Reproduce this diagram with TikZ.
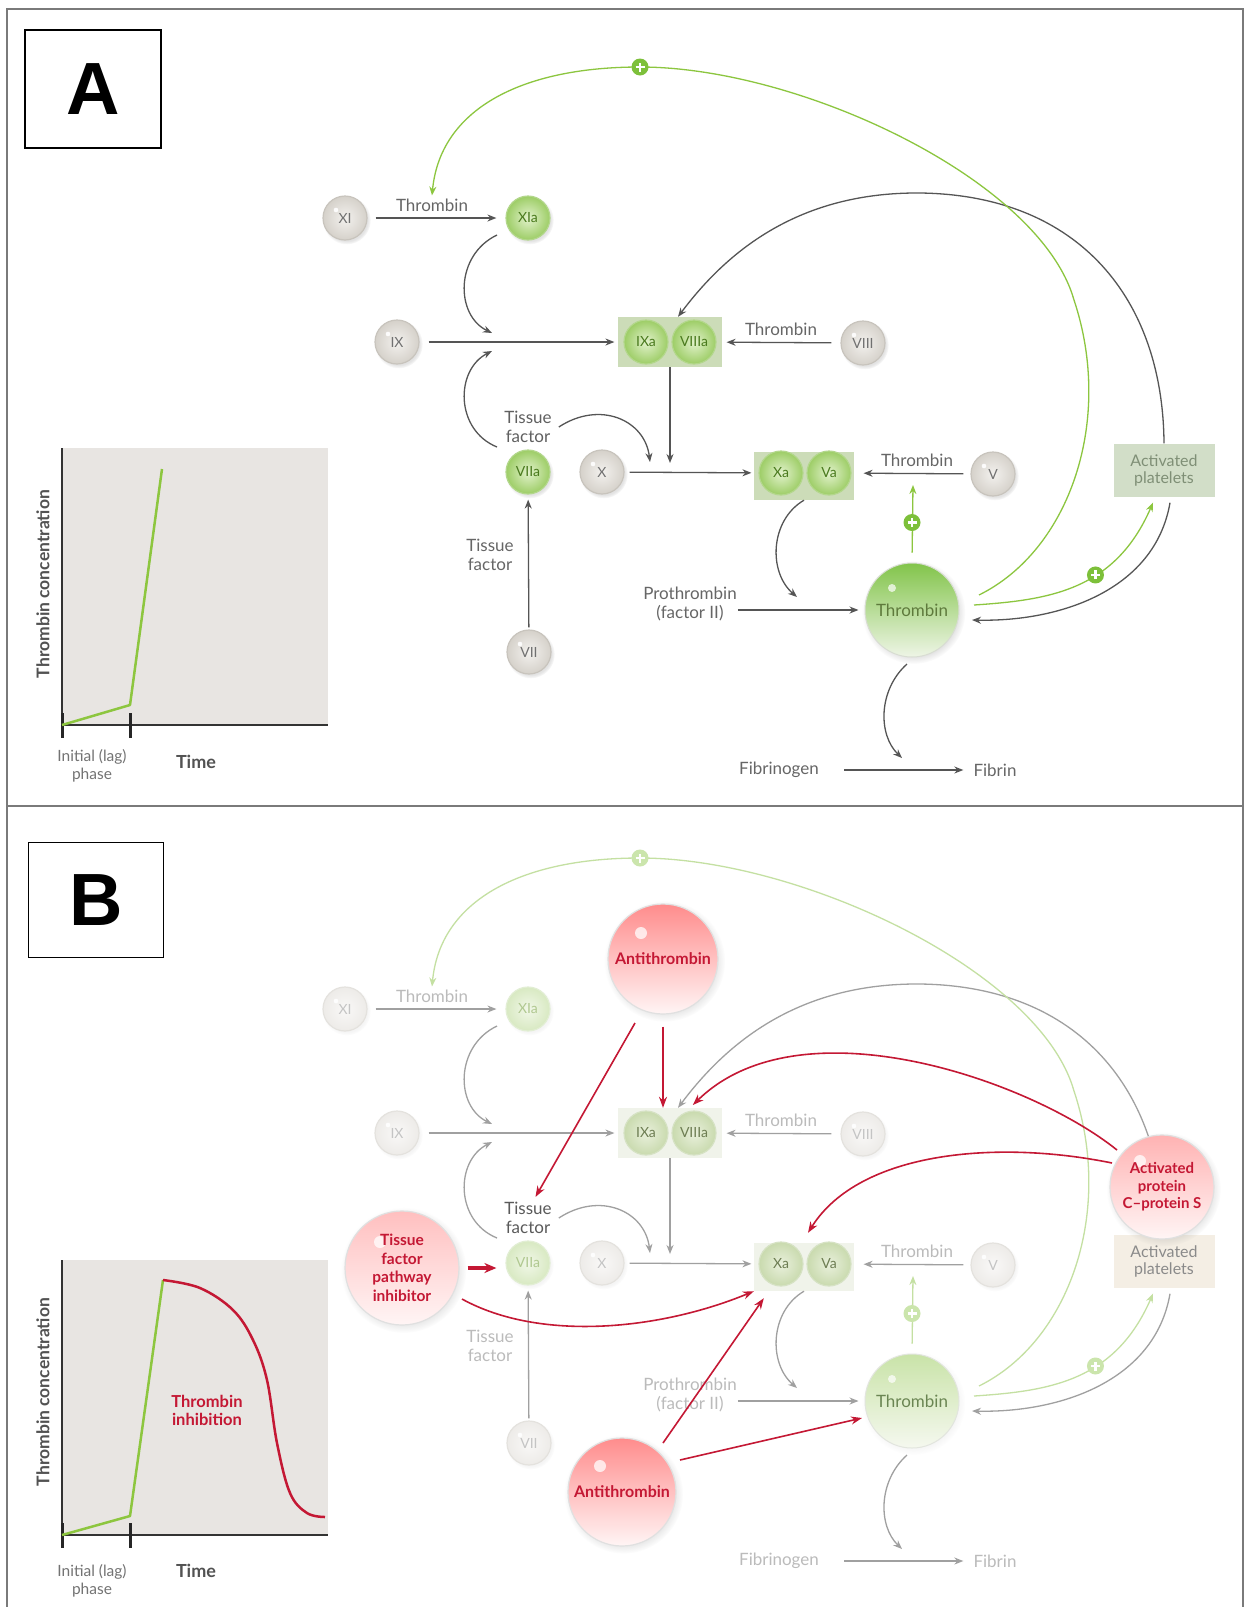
\documentclass[tikz,border=0pt]{standalone}
\usepackage{fontspec}
\setmainfont{Lato}
\newfontfamily\arialfont{Liberation Sans}
\usetikzlibrary{arrows.meta,shadows}

\newcommand\colorsA{%
\definecolor{lc}{HTML}{555555}\definecolor{tc}{HTML}{666666}\definecolor{tfc}{HTML}{606060}%
\definecolor{gc}{HTML}{8CC63F}\definecolor{pc}{HTML}{7DC03A}%
\definecolor{gbi}{HTML}{F3F1EE}\definecolor{gbo}{HTML}{D5D1CA}\definecolor{gbd}{HTML}{C8C4BD}\definecolor{gbt}{HTML}{707070}%
\definecolor{abi}{HTML}{E2F2CC}\definecolor{abo}{HTML}{9DCD66}\definecolor{abd}{HTML}{B3D78C}\definecolor{abt}{HTML}{4A7A1E}%
\definecolor{cbi}{HTML}{E2F2CC}\definecolor{cbo}{HTML}{9DCD66}\definecolor{cbd}{HTML}{B3D78C}\definecolor{cbt}{HTML}{4A7A1E}%
\definecolor{cpx}{HTML}{CCDCB8}%
\definecolor{tht}{HTML}{82C44A}\definecolor{thb}{HTML}{EEF5E6}\definecolor{thd}{HTML}{D8DDD2}\definecolor{thtx}{HTML}{5E7A3C}%
\definecolor{plf}{HTML}{D2DEC8}\definecolor{pltx}{HTML}{7F8F76}}
\newcommand\colorsB{%
\definecolor{lc}{HTML}{A0A0A0}\definecolor{tc}{HTML}{BBBBBB}\definecolor{tfc}{HTML}{5A5A5A}%
\definecolor{gc}{HTML}{C4E0A2}\definecolor{pc}{HTML}{CBE5AC}%
\definecolor{gbi}{HTML}{F9F8F7}\definecolor{gbo}{HTML}{EDEBE8}\definecolor{gbd}{HTML}{E4E2DE}\definecolor{gbt}{HTML}{C4C4C4}%
\definecolor{abi}{HTML}{F1F7E8}\definecolor{abo}{HTML}{D8E9C2}\definecolor{abd}{HTML}{E2EED4}\definecolor{abt}{HTML}{B0C890}%
\definecolor{cbi}{HTML}{E9F0DC}\definecolor{cbo}{HTML}{C9DAAE}\definecolor{cbd}{HTML}{D6E2C4}\definecolor{cbt}{HTML}{6D7D52}%
\definecolor{cpx}{HTML}{F0F3EA}%
\definecolor{tht}{HTML}{C9E3A8}\definecolor{thb}{HTML}{F5F8EF}\definecolor{thd}{HTML}{E2E5DE}\definecolor{thtx}{HTML}{6A8552}%
\definecolor{plf}{HTML}{F4EEE4}\definecolor{pltx}{HTML}{8A8A8A}}
\colorsA
\definecolor{redc}{HTML}{C41834}
\definecolor{bgg}{HTML}{E8E5E2}
\definecolor{grl}{HTML}{8DC63F}
\definecolor{axc}{HTML}{333333}
\definecolor{frm}{HTML}{7A7A7A}

\tikzset{
  shd/.style={},
  lbl/.style={font=\fontsize{17}{18.5}\selectfont, text=tc, inner sep=1pt, align=center},
  fball/.style={circle, minimum size=44pt, inner sep=0pt, font=\fontsize{14}{15}\selectfont, line width=1.2pt},
  hl/.style={path picture={\fill[white,opacity=#1] ([shift={(-9pt,8pt)}]path picture bounding box.center) circle (2.3pt);}},
  gball/.style={fball, shd, inner color=gbi, outer color=gbo, draw=gbd, text=gbt, hl=0.9},
  aball/.style={fball, shd, inner color=abi, outer color=abo, draw=abd, text=abt},
  cball/.style={fball, inner color=cbi, outer color=cbo, draw=cbd, text=cbt},
  cplx/.style={rectangle, minimum width=104pt, minimum height=50pt, fill=cpx, inner sep=0pt},
  thr/.style={circle, minimum size=94pt, inner sep=0pt, top color=tht, bottom color=thb, draw=thd, line width=1pt, text=thtx, font=\fontsize{17}{18}\selectfont, shd,
     path picture={\fill[white,opacity=0.7] ([shift={(-20pt,22pt)}]path picture bounding box.center) circle (4pt);}},
  pltbox/.style={rectangle, minimum width=101pt, minimum height=53pt, fill=plf, text=pltx, align=center, font=\fontsize{16}{17}\selectfont},
  ar/.style={draw=lc, line width=1.3pt, -{Stealth[length=9pt,width=7pt]}},
  garr/.style={draw=gc, line width=1.3pt, -{Stealth[length=9pt,width=7pt]}},
  rar/.style={draw=redc, line width=1.6pt, -{Stealth[length=11pt,width=8pt]}},
  plusn/.style={circle, minimum size=17pt, inner sep=0pt, fill=pc, draw=none,
     path picture={\draw[white, line width=2.2pt, -, shorten <=0pt, shorten >=0pt] ([xshift=-4.5pt]path picture bounding box.center) -- ([xshift=4.5pt]path picture bounding box.center) ([yshift=-4.5pt]path picture bounding box.center) -- ([yshift=4.5pt]path picture bounding box.center);}},
  redball/.style={circle, minimum size=110pt, inner sep=0pt, top color=#1, bottom color=red!4!white, draw=black!12, line width=1.2pt, text=redc,
     font=\bfseries\fontsize{16}{18}\selectfont, align=center, circular drop shadow={shadow xshift=1.5pt,shadow yshift=-2pt,opacity=0.18},
     path picture={\fill[white,opacity=0.75] ([shift={(-22pt,26pt)}]path picture bounding box.center) circle (6pt);}},
  ylab/.style={rotate=90, font=\bfseries\fontsize{17.5}{18}\selectfont, text=black!68},
  laglab/.style={font=\fontsize{15.5}{18}\selectfont, text=black!55, align=center},
  timelab/.style={font=\bfseries\fontsize{18}{18}\selectfont, text=black!68},
  panel/.style={draw=black, line width=1.5pt, minimum width=136pt, minimum height=118pt, font=\arialfont\bfseries\fontsize{74}{74}\selectfont}
}

\newcommand\cascade{%
\node[cplx] (IXc) at (670,342) {};
\node[cplx, minimum width=100pt, minimum height=48pt] (Xc) at (804,476) {};
\node[gball] (XI) at (345,218) {XI};
\node[aball] (XIa) at (528,218) {XIa};
\node[gball] (IX) at (397,342) {IX};
\node[cball] (IXa) at (646,342) {IXa};
\node[cball] (VIIIa) at (694,342) {VIIIa};
\node[gball] (VIII) at (863,343) {VIII};
\node[aball] (VIIa) at (528,472) {VIIa};
\node[gball] (X) at (602,472) {X};
\node[cball] (Xa) at (781,473) {Xa};
\node[cball] (Va) at (829,473) {Va};
\node[gball] (V) at (993,474) {V};
\node[gball] (VII) at (529,652) {VII};
\node[thr] (Thr) at (912,610) {Thrombin};
\node[pltbox] (Plt) at (1164,470) {Activated\\platelets};
\node[lbl] (T1) at (432,205) {Thrombin};
\node[lbl] (T2) at (781,329) {Thrombin};
\node[lbl] (T3) at (917,460) {Thrombin};
\node[lbl,text=tfc] (TF1) at (528,427) {Tissue\\factor};
\node[lbl] (TF2) at (490,555) {Tissue\\factor};
\node[lbl] (Pro) at (690,604) {Prothrombin\\(factor II)};
\node[lbl] (Fgn) at (779,770) {Fibrinogen};
\node[lbl] (Fbn) at (995,770) {Fibrin};
\coordinate (J1) at (492,333);
\coordinate (J2) at (492,351);
\coordinate (J3) at (670,463);
\coordinate (J4) at (650,462);
\coordinate (J5) at (797,597);
\coordinate (J6) at (902,758);
\coordinate (J7) at (913,485);
\coordinate (P1c) at (640,67);
\draw[ar, shorten <=8pt, shorten >=9pt] (XI) -- (XIa);
\draw[ar, shorten <=9pt, shorten >=9pt] (IX) -- (IXa);
\draw[ar, shorten <=9pt, shorten >=10pt] (VIII) -- (VIIIa);
\draw[ar, shorten <=5pt, shorten >=7pt] (X) -- (Xa);
\draw[ar, shorten <=7pt, shorten >=12pt] (V) -- (Va);
\draw[ar, shorten <=2pt, shorten >=5pt] (VII) -- (VIIa);
\draw[ar] ([xshift=-31pt,yshift=-17pt]XIa.center) .. controls (455,255) and (455,315) .. (J1);
\draw[ar] ([xshift=-31pt,yshift=25pt]VIIa.center) .. controls (455,430) and (455,370) .. (J2);
\draw[ar] ([xshift=6pt]TF1.east) .. controls (600,400) and (645,420) .. (J4);
\draw[ar] (IXc.south) -- (J3);
\draw[ar] (Xc.south) .. controls (770,520) and (768,572) .. (J5);
\draw[ar, shorten >=6pt] (Pro.east |- Thr.west) -- (Thr.west);
\draw[ar] ([xshift=-5pt,yshift=-54pt]Thr.center) .. controls (878,690) and (878,735) .. (J6);
\draw[ar, shorten <=24pt, shorten >=9pt] (Fgn) -- (Fbn);
\draw[garr, shorten <=10pt] (Thr.north) -- (J7);
\node[plusn] (P2) at ([yshift=40pt]Thr.north) {};
\draw[garr] ([xshift=62pt,yshift=5pt]Thr.center) .. controls (1050,600) and (1115,590) .. ([xshift=-11pt,yshift=-6pt]Plt.south) coordinate[pos=0.6] (P3c);
\node[plusn] (P3) at (P3c) {};
\draw[ar] ([xshift=6pt,yshift=-6pt]Plt.south) .. controls (1155,590) and (1060,622) .. ([xshift=60pt,yshift=-10pt]Thr.center);
\draw[ar] (Plt.north) .. controls (1163,300) and (1080,195) .. (920,193) .. controls (800,192) and (728,250) .. ([xshift=8pt]IXc.north);
\draw[garr] ([xshift=67pt,yshift=15pt]Thr.center) .. controls (1070,550) and (1114,420) .. (1074,300) .. controls (1040,180) and (800,67) .. (P1c) .. controls (520,67) and (440,110) .. ([yshift=2pt]T1.north);
\node[plusn] (P1) at (P1c) {};
}

\begin{document}
\begin{tikzpicture}[x=1pt,y=-1pt]
\useasboundingbox (0,0) rectangle (1245,1607);
\fill[white] (0,0) rectangle (1245,1607);
% frame
\draw[frm, line width=2pt] (7,1607) -- (7,9) -- (1243,9) -- (1243,1607);
\draw[frm, line width=2pt] (7,806) -- (1243,806);
\node[panel] (boxA) at (93,89) {A};
\node[panel, minimum width=135pt, minimum height=115pt] (boxB) at (96,900) {B};

% graph A
\fill[bgg] (62,448) rectangle (328,725);
\draw[axc, line width=2pt] (62,448) -- (62,725);
\draw[axc, line width=2.5pt] (62,725) -- (328,725);
\draw[black!85, line width=3pt] (62,713) -- (62,738) (130,713) -- (130,738);
\draw[grl, line width=2.5pt, line join=round] (62,725) -- (130,705) -- (162,469);
\node[ylab] (yA) at (43,584) {Thrombin concentration};
\node[laglab] (lagA) at (92,766) {Initial (lag)\\phase};
\node[timelab] (timeA) at (196,762) {Time};

% graph B
\fill[bgg] (62,1260) rectangle (328,1535);
\draw[axc, line width=2pt] (62,1260) -- (62,1535);
\draw[axc, line width=2.5pt] (62,1535) -- (328,1535);
\draw[black!85, line width=3pt] (62,1523) -- (62,1548) (130,1523) -- (130,1548);
\draw[grl, line width=2.5pt, line join=round] (62,1535) -- (130,1516) -- (163,1280);
\draw[redc, line width=2.5pt] plot[smooth, tension=0.6] coordinates {(163,1280) (200,1288) (233,1310) (253,1340) (267,1380) (277,1443) (290,1493) (307,1513) (325,1517)};
\node[font=\bfseries\fontsize{16.5}{18}\selectfont, text=redc, align=center] (inh) at (207,1410) {Thrombin\\inhibition};
\node[ylab] (yB) at (43,1392) {Thrombin concentration};
\node[laglab] (lagB) at (92,1581) {Initial (lag)\\phase};
\node[timelab] (timeB) at (196,1571) {Time};

% panel A cascade
\begin{scope}[name prefix=A-, shd/.style={circular drop shadow={shadow xshift=1.5pt,shadow yshift=-2pt,opacity=0.22}}]
\colorsA
\cascade
\end{scope}

% panel B cascade (faded)
\begin{scope}[shift={(0,791)}, name prefix=B-, shd/.style={circular drop shadow={shadow xshift=1.5pt,shadow yshift=-2pt,opacity=0.08}}]
\colorsB
\cascade
\end{scope}

% panel B inhibitors
\node[redball=red!45!white] (AT1) at (663,959) {Antithrombin};
\node[redball=red!45!white, minimum size=108pt] (AT2) at (622,1492) {Antithrombin};
\node[redball=red!25!white, minimum size=114pt, font=\bfseries\fontsize{15.5}{18.5}\selectfont] (TFPI) at (402,1268) {Tissue\\factor\\pathway\\inhibitor};
\node[redball=red!30!white, minimum size=104pt, font=\bfseries\fontsize{15}{17.5}\selectfont] (APC) at (1162,1187) {Activated\\protein\\C--protein S};

\draw[rar, shorten >=5pt] ([xshift=-28pt,yshift=-64pt]AT1.center) -- ([xshift=5pt]B-TF1.north);
\draw[rar, shorten <=12pt] (AT1.south) -- (B-IXc.north -| AT1.south);
\draw[rar, shorten >=4pt] ([xshift=-45pt,yshift=37pt]APC.center) .. controls (1030,1080) and (800,1000) .. ([xshift=20pt]B-IXc.north);
\draw[rar] ([xshift=-50pt,yshift=24pt]APC.center) .. controls (1000,1140) and (860,1150) .. ([xshift=4pt,yshift=10pt]B-Xc.north);
\draw[rar, line width=3.2pt, -{Stealth[length=12pt,width=10pt]}, shorten <=8pt, shorten >=9pt] (TFPI.east) -- (TFPI.east -| B-VIIa.west);
\draw[rar] ([xshift=60pt,yshift=-31pt]TFPI.center) .. controls (540,1342) and (660,1330) .. (B-Xc.south west);
\draw[rar] ([xshift=41pt,yshift=49pt]AT2.center) -- ([xshift=10pt,yshift=-7pt]B-Xc.south west);
\draw[rar] ([xshift=58pt,yshift=32pt]AT2.center) -- ([xshift=-50pt,yshift=-17pt]B-Thr.center);
\end{tikzpicture}
\end{document}
